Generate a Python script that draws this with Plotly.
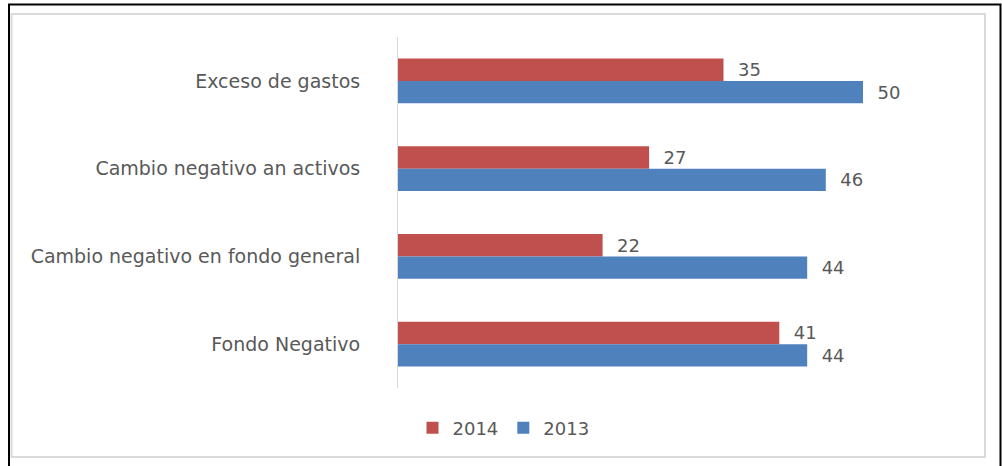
import plotly.graph_objects as go

categories = ["Exceso de gastos", "Cambio negativo an activos",
              "Cambio negativo en fondo general", "Fondo Negativo"]
values_2014 = [35, 27, 22, 41]
values_2013 = [50, 46, 44, 44]
series_names = ["2014", "2013"]

RED = "#C0504D"
BLUE = "#4F81BD"
TXT = "#595959"
FONT = "DejaVu Sans"

fig = go.Figure()
for name, vals, col in [(series_names[0], values_2014, RED), (series_names[1], values_2013, BLUE)]:
    fig.add_trace(go.Bar(
        y=categories, x=vals, name=name, orientation="h",
        marker=dict(color=col, line=dict(width=0)),
        text=vals, texttemplate="  %{x}", textposition="outside",
        textfont=dict(size=18, color=TXT, family=FONT),
        cliponaxis=False,
    ))

L, R, T, B = 398, 46, 37, 78
W, H = 1002, 466
pw = W - L - R
ph = H - T - B

def px(x):
    return (x - L) / pw

def py(y):
    return (H - B - y) / ph

fig.update_layout(
    width=W, height=H,
    margin=dict(l=L, r=R, t=T, b=B, pad=0),
    paper_bgcolor="white", plot_bgcolor="white",
    barmode="group", bargap=0.49, bargroupgap=0,
    font=dict(family=FONT, size=18, color=TXT),
    showlegend=True,
    legend=dict(orientation="h", x=px(412.5), y=py(428), xanchor="left", yanchor="middle",
                font=dict(size=18, color=TXT, family=FONT), itemwidth=30,
                traceorder="normal", bgcolor="rgba(0,0,0,0)"),
    xaxis=dict(range=[0, 60], visible=False, showgrid=False, zeroline=False),
    yaxis=dict(autorange="reversed", showline=True, linecolor="#D9D9D9", linewidth=1,
               ticks="", showgrid=False, ticklabelstandoff=33,
               tickfont=dict(size=19, color=TXT, family=FONT)),
    shapes=[
        dict(type="rect", xref="paper", yref="paper",
             x0=px(11.5), x1=px(985), y0=py(457), y1=py(14),
             line=dict(color="#D9D9D9", width=2), fillcolor="rgba(0,0,0,0)", layer="below"),
        dict(type="rect", xref="paper", yref="paper",
             x0=px(9), x1=px(1000.5), y0=py(480), y1=py(4.5),
             line=dict(color="#000000", width=2), fillcolor="rgba(0,0,0,0)", layer="below"),
    ],
)

fig.write_html("out.html")
